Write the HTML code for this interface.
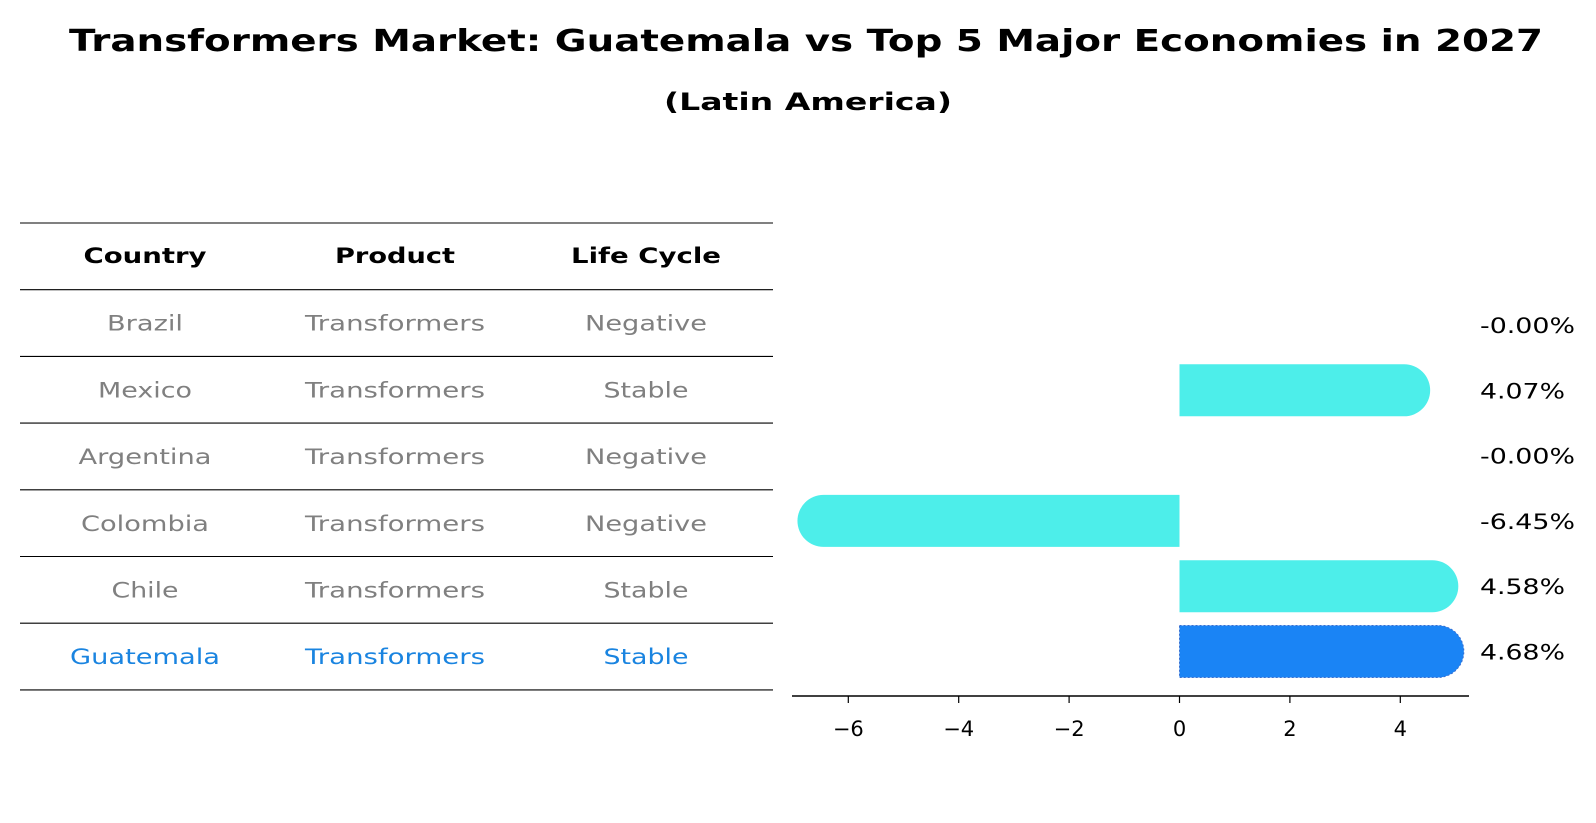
<!DOCTYPE html>
<html><head><meta charset="utf-8"><style>
body{margin:0;background:#fff;font-family:"DejaVu Sans","Liberation Sans",sans-serif;}
#wrap{position:relative;width:1596px;height:823px;overflow:hidden;}
</style></head><body>
<div id="wrap">
<svg id="svg" width="1596" height="823" xmlns="http://www.w3.org/2000/svg" font-family="DejaVu Sans, Liberation Sans, sans-serif">
<text x="806" y="51" text-anchor="middle" font-size="30" font-weight="bold" textLength="1474" lengthAdjust="spacingAndGlyphs">Transformers Market: Guatemala vs Top 5 Major Economies in 2027</text>
<text x="808" y="110" text-anchor="middle" font-size="24" font-weight="bold" textLength="288" lengthAdjust="spacingAndGlyphs">(Latin America)</text>
<g id="table"></g>
<g id="bars"></g>
</svg>
</div>
<script>
const countries=["Brazil","Mexico","Argentina","Colombia","Chile","Guatemala"];
const products=["Transformers","Transformers","Transformers","Transformers","Transformers","Transformers"];
const lifeCycles=["Negative","Stable","Negative","Negative","Stable","Stable"];
const growth=[-0.00,4.07,-0.00,-6.45,4.58,4.68];
const valueLabels=["-0.00%","4.07%","-0.00%","-6.45%","4.58%","4.68%"];
const xTicks=[-6,-4,-2,0,2,4];

const widths={"Country":123,"Product":120,"Life Cycle":150,"Brazil":76,"Transformers":180,"Negative":122,"Mexico":94,"Stable":85,"Argentina":133,"Colombia":128,"Chile":67,"Guatemala":150};
const NS="http://www.w3.org/2000/svg";
function mk(t,a,p){const e=document.createElementNS(NS,t);for(const k in a)e.setAttribute(k,a[k]);p.appendChild(e);return e;}
function fit(t,s){if(widths[s]){t.setAttribute('textLength',widths[s]);t.setAttribute('lengthAdjust','spacingAndGlyphs');}}
const tbl=document.getElementById('table');
const lineY=i=>223+i*66.7;
const rowY=i=>lineY(i+1)+33;
const colX=[145,395,646];
for(let i=0;i<8;i++){const y=lineY(i);
const l=mk('line',{x1:20,x2:773,y1:y,y2:y,stroke:'#000','stroke-width':1.1},tbl);

}
["Country","Product","Life Cycle"].forEach((h,j)=>{const t=mk('text',{x:colX[j],y:lineY(0)+40,'text-anchor':'middle','font-size':21,'font-weight':'bold'},tbl);t.textContent=h;fit(t,h);

});
countries.forEach((c,i)=>{const col=c==="Guatemala"?"#1a84e0":"#808080";
[c,products[i],lifeCycles[i]].forEach((v,j)=>{const t=mk('text',{x:colX[j],y:rowY(i)+8,'text-anchor':'middle','font-size':21,fill:col},tbl);t.textContent=v;fit(t,v);

});});

const g=document.getElementById('bars');
const x0=1179.5,sc=55.2;const X=v=>x0+v*sc;
const barY=i=>325+i*65.3;
const r=26;
growth.forEach((v,i)=>{const cy=barY(i);
if(Math.abs(v)>0.001){const xe=X(v),dir=v>0?1:-1;
const d=`M${x0},${cy-r} L${xe},${cy-r} A${r},${r} 0 0 ${dir>0?1:0} ${xe},${cy+r} L${x0},${cy+r} Z`;
const gu=countries[i]==="Guatemala";
const p=mk('path',{d:d,fill:gu?'#1a84f5':'#4deeea',stroke:gu?'#3a6fd0':'none','stroke-dasharray':'2,2','stroke-width':1},g);

}
const t=mk('text',{x:1480,y:cy+8,'font-size':21,textLength:valueLabels[i].startsWith('-')?95:85,lengthAdjust:'spacingAndGlyphs'},g);t.textContent=valueLabels[i];

});
const ay=696;
const ax=mk('line',{x1:792,x2:1469,y1:ay,y2:ay,stroke:'#000','stroke-width':1.4},g);


xTicks.forEach(v=>{const tk=mk('line',{x1:X(v),x2:X(v),y1:ay,y2:ay+7,stroke:'#000','stroke-width':1.2},g);


const t=mk('text',{x:X(v),y:ay+40,'text-anchor':'middle','font-size':21},g);t.textContent=(v<0?'\u2212'+(-v):String(v));

});
</script>
</body></html>
